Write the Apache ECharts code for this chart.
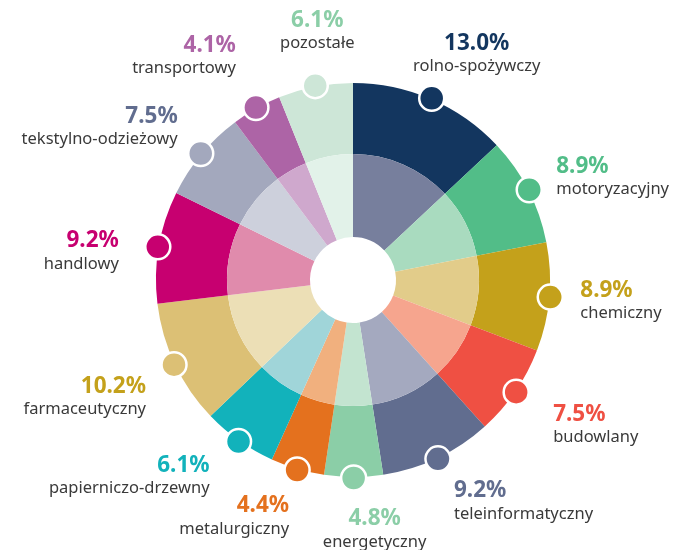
<!DOCTYPE html>
<html>
<head>
<meta charset="utf-8">
<script src="https://cdn.jsdelivr.net/npm/echarts@6/dist/echarts.min.js"></script>
<style>
  html, body { margin: 0; padding: 0; background: #fff; }
  #chart { width: 673px; height: 550px; }
</style>
</head>
<body>
<div id="chart"></div>
<script>
// branże, zgodnie z ruchem wskazówek zegara od góry
const categories = ['rolno-spożywczy', 'motoryzacyjny', 'chemiczny', 'budowlany', 'teleinformatyczny',
  'energetyczny', 'metalurgiczny', 'papierniczo-drzewny', 'farmaceutyczny', 'handlowy',
  'tekstylno-odzieżowy', 'transportowy', 'pozostałe']
const shares = [13.0, 8.9, 8.9, 7.5, 9.2, 4.8, 4.4, 6.1, 10.2, 9.2, 7.5, 4.1, 6.1]

const outerColors = ['#13365f', '#52bd88', '#c4a11b', '#ef5043', '#616d8f', '#8bcea7', '#e4711e',
  '#12b2bb', '#dcc075', '#c70070', '#a3a8bd', '#ad64a6', '#cde6d7']
const innerColors = ['#777f9d', '#a9dbbf', '#e2cc8a', '#f6a58e', '#a4a9bf', '#c3e4d0', '#f1b07e',
  '#a0d5d9', '#ecdfb6', '#e08bac', '#cdd0dc', '#cfa8cd', '#e2f2e9']
const pctColors = ['#13365f', '#52bd88', '#c4a11b', '#ef5043', '#616d8f', '#8bcea7', '#e4711e',
  '#12b2bb', '#c4a11b', '#c70070', '#616d8f', '#ad64a6', '#8bcea7']

// położenie podpisu względem kropki: [align, dx, dy]
const labelPlace = [
  ['center', 45, -44], ['left', 27, -12], ['left', 30, 4], ['left', 37, 33], ['left', 16, 43],
  ['center', 21, 52], ['right', -8, 47], ['right', -29, 35], ['right', -28, 33], ['right', -39, 5],
  ['right', -23, -26], ['right', -20, -51], ['center', 2, -54]
]

const center = [353, 280]
const R = 197
const total = shares.reduce((a, b) => a + b, 0)

let acc = 0
const mids = shares.map(v => { const m = acc + v / 2; acc += v; return m })

const chart = echarts.init(document.getElementById('chart'))
const font = 'Noto Sans'

chart.setOption({
  backgroundColor: '#fff',
  animation: false,
  polar: { center: center, radius: 210 },
  angleAxis: { type: 'value', min: 0, max: total, startAngle: 90, show: false },
  radiusAxis: { type: 'value', min: 0, max: 210, show: false },
  series: [
    {
      type: 'pie',
      center: center,
      radius: [126, R],
      startAngle: 90,
      silent: true,
      label: { show: false },
      labelLine: { show: false },
      data: shares.map((v, i) => ({ value: v, name: categories[i], itemStyle: { color: outerColors[i] } }))
    },
    {
      type: 'pie',
      center: center,
      radius: [43, 126],
      startAngle: 90,
      silent: true,
      label: { show: false },
      labelLine: { show: false },
      data: shares.map((v, i) => ({ value: v, name: categories[i], itemStyle: { color: innerColors[i] } }))
    },
    {
      type: 'scatter',
      coordinateSystem: 'polar',
      symbol: 'circle',
      symbolSize: 25,
      silent: true,
      clip: false,
      z: 5,
      data: mids.map((m, i) => ({
        value: [R + 1, m],
        itemStyle: { color: outerColors[i], borderColor: '#fff', borderWidth: 2.5, opacity: 1 },
        label: {
          show: true,
          position: 'inside',
          align: labelPlace[i][0],
          verticalAlign: 'middle',
          offset: [labelPlace[i][1], labelPlace[i][2]],
          formatter: '{p|' + shares[i].toFixed(1) + '%}\n{n|' + categories[i] + '}',
          rich: {
            p: { fontFamily: font, fontSize: 22.5, fontWeight: 'bold', color: pctColors[i], lineHeight: 24, align: labelPlace[i][0] },
            n: { fontFamily: font, fontSize: 16.5, color: '#3a3a3a', lineHeight: 22, align: labelPlace[i][0] }
          }
        }
      }))
    }
  ]
})
</script>
</body>
</html>
